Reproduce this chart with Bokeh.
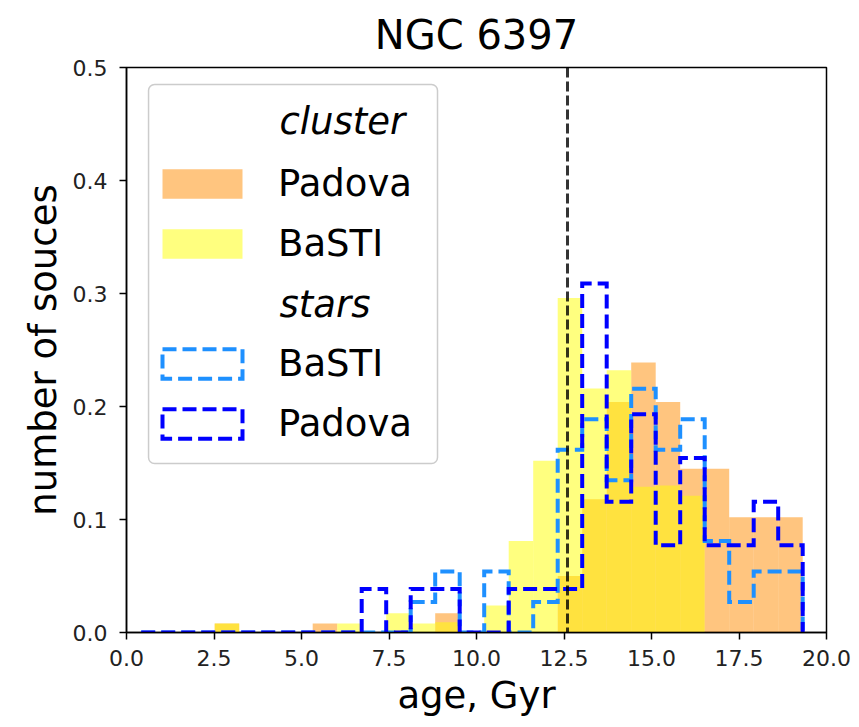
import numpy as np
from bokeh.plotting import figure
from bokeh.models import (ColumnDataSource, FixedTicker, PrintfTickFormatter,
                          Legend, LegendItem, Span, Label, Range1d, BoxAnnotation)
from bokeh.embed import file_html
from bokeh.resources import INLINE

# Shared age bins (Gyr)
bin_edges = [0.42, 1.12, 1.82, 2.52, 3.22, 3.92, 4.62, 5.32, 6.02, 6.72,
             7.42, 8.12, 8.82, 9.52, 10.22, 10.92, 11.62, 12.32, 13.02,
             13.72, 14.42, 15.12, 15.82, 16.52, 17.22, 17.92, 18.62, 19.32]

# Normalised histogram heights (density) for each bin
cluster_padova = [0, 0, 0, 0.008, 0, 0, 0, 0.008, 0, 0, 0, 0, 0.017, 0, 0,
                  0, 0, 0.050, 0.118, 0.204, 0.239, 0.204, 0.145, 0.145,
                  0.102, 0.102, 0.102]
cluster_basti = [0, 0, 0, 0.008, 0, 0, 0, 0, 0.008, 0, 0.017, 0.008, 0.009,
                 0, 0.024, 0.081, 0.152, 0.296, 0.216, 0.232, 0.129, 0.130,
                 0.121, 0, 0, 0, 0]
stars_basti = [0, 0, 0, 0, 0, 0, 0, 0, 0, 0, 0, 0.0270, 0.0539, 0, 0.0539,
               0, 0.0270, 0.1617, 0.1887, 0.1348, 0.2156, 0.1617, 0.1887,
               0.0809, 0.0270, 0.0539, 0.0539]
stars_padova = [0, 0, 0, 0, 0, 0, 0, 0, 0, 0.0386, 0, 0.0386, 0.0386, 0, 0,
                0.0386, 0.0386, 0.0386, 0.3089, 0.1158, 0.1931, 0.0772,
                0.1544, 0.0772, 0.0772, 0.1158, 0.0772]

cluster_age = 12.6

x_ticks = [0.0, 2.5, 5.0, 7.5, 10.0, 12.5, 15.0, 17.5, 20.0]
y_ticks = [0.0, 0.1, 0.2, 0.3, 0.4, 0.5]

FONT = "DejaVu Sans"
DASH = "14 6"


def bars(heights):
    return ColumnDataSource(dict(left=bin_edges[:-1], right=bin_edges[1:],
                                 top=heights, bottom=[0] * len(heights)))


def step_outline(heights):
    xs, ys = [bin_edges[0]], [0]
    for i, h in enumerate(heights):
        xs += [bin_edges[i], bin_edges[i + 1]]
        ys += [h, h]
    xs.append(bin_edges[-1])
    ys.append(0)
    return xs, ys


def swatch_source():
    # one undrawable row: the renderer only supplies a legend swatch
    nan = np.array([np.nan])
    return ColumnDataSource(dict(left=nan, right=nan, top=nan, bottom=nan))


p = figure(width=859, height=727, x_range=Range1d(0, 20), y_range=Range1d(0, 0.5),
           output_backend="svg", toolbar_location=None,
           min_border_left=126, min_border_right=33,
           min_border_top=67, min_border_bottom=95)

p.title.text = "NGC 6397"
p.title.align = "center"
p.title.text_font = FONT
p.title.text_font_size = "40px"
p.title.text_font_style = "normal"
p.title.text_color = "black"
p.title.standoff = 19

# filled cluster histograms
r_cp = p.quad(source=bars(cluster_padova), left="left", right="right", top="top",
              bottom="bottom", fill_color="#FF8C00", fill_alpha=0.5, line_color=None)
r_cb = p.quad(source=bars(cluster_basti), left="left", right="right", top="top",
              bottom="bottom", fill_color="#FFFF00", fill_alpha=0.5, line_color=None)

# dashed step histograms for the stars
for heights, color in ((stars_basti, "#1E90FF"), (stars_padova, "#0000FF")):
    xs, ys = step_outline(heights)
    p.line(xs, ys, line_color=color, line_width=4, line_dash=DASH,
           line_join="miter")

# legend swatches for the step histograms
r_sb = p.quad(source=swatch_source(), left="left", right="right", top="top",
              bottom="bottom", fill_color=None, line_color="#1E90FF", line_width=4,
              line_dash=DASH, line_join="miter")
r_sp = p.quad(source=swatch_source(), left="left", right="right", top="top",
              bottom="bottom", fill_color=None, line_color="#0000FF", line_width=4,
              line_dash=DASH, line_join="miter")
r_head = p.quad(source=swatch_source(), left="left", right="right", top="top",
                bottom="bottom", fill_color=None, line_color=None)

p.add_layout(Span(location=cluster_age, dimension="height", line_color="black",
                  line_alpha=0.8, line_width=3, line_dash="10 4"))

# axes
p.xgrid.visible = False
p.ygrid.visible = False
p.outline_line_color = "black"
p.outline_line_width = 1.5
p.outline_line_alpha = 1
p.xaxis.ticker = FixedTicker(ticks=x_ticks)
p.yaxis.ticker = FixedTicker(ticks=y_ticks)
p.axis.formatter = PrintfTickFormatter(format="%.1f")
for ax in (p.xaxis, p.yaxis):
    ax.minor_tick_line_color = None
    ax.major_tick_in = 0
    ax.major_tick_out = 7
    ax.major_tick_line_width = 1.5
    ax.axis_line_width = 1.5
    ax.major_label_text_font = FONT
    ax.major_label_text_font_size = "22px"
    ax.major_label_text_color = "#222222"
    ax.axis_label_text_font = FONT
    ax.axis_label_text_font_size = "37px"
    ax.axis_label_text_font_style = "normal"
    ax.axis_label_text_color = "black"
p.xaxis.axis_label = "age, Gyr"
p.yaxis.axis_label = "number of souces"
p.xaxis.major_label_standoff = 10
p.yaxis.major_label_standoff = 12

# legend frame (drawn separately so it can hold the italic headings)
legend_box = BoxAnnotation(left=0.63, right=8.886, top=0.485, bottom=0.1496,
                           fill_color="white", fill_alpha=0.8,
                           line_color="#cccccc", line_width=1.5, line_alpha=1)
if "border_radius" in BoxAnnotation.properties():
    legend_box.border_radius = 6
p.add_layout(legend_box)

legend = Legend(items=[
    LegendItem(label=" ", renderers=[r_head]),
    LegendItem(label="Padova", renderers=[r_cp]),
    LegendItem(label="BaSTI", renderers=[r_cb]),
    LegendItem(label=" ", renderers=[r_head]),
    LegendItem(label="BaSTI", renderers=[r_sb]),
    LegendItem(label="Padova", renderers=[r_sp]),
], location=(26, 186), padding=5, spacing=15, glyph_width=100, glyph_height=37,
    label_standoff=26, label_height=45, label_width=150,
    label_text_font=FONT, label_text_font_size="37px", label_text_color="black",
    border_line_color=None, background_fill_alpha=0)
p.add_layout(legend)

# italic section headings inside the legend
for text, y in (("cluster", 0.4522), ("stars", 0.2903)):
    p.add_layout(Label(x=4.371, y=y, text=text, text_font=FONT,
                       text_font_size="37px", text_font_style="italic",
                       text_baseline="middle", text_color="black",
                       level="overlay"))

open("out.html", "w").write(file_html(p, INLINE))
